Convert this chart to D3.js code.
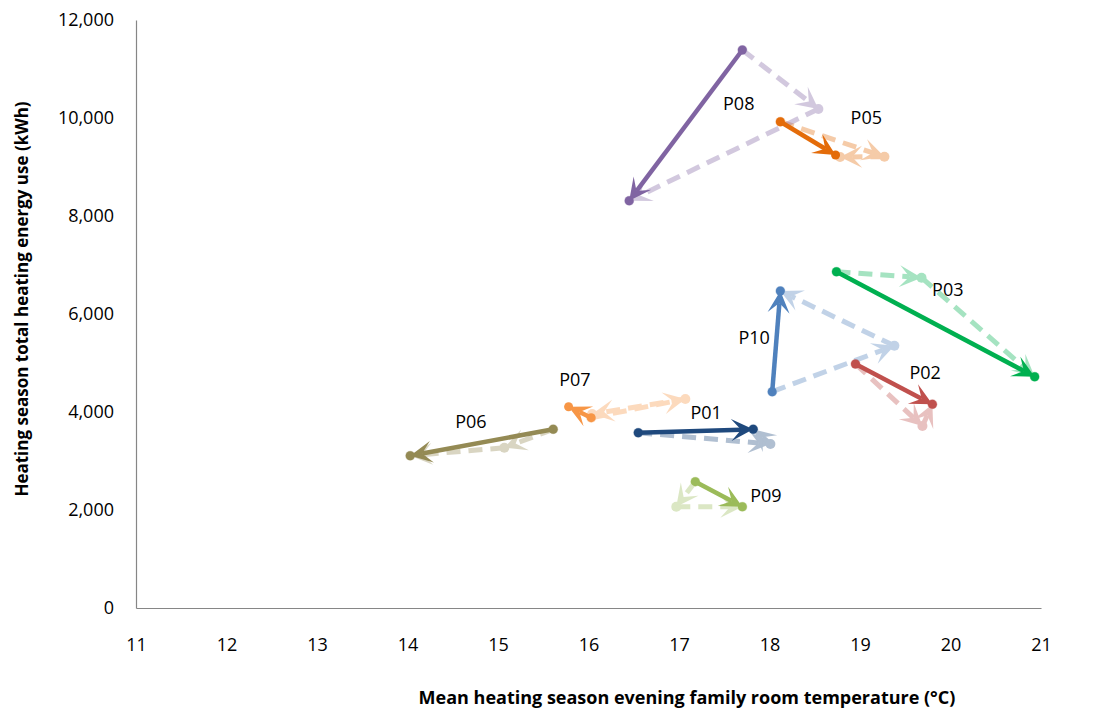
<!DOCTYPE html>
<html>
<head>
<meta charset="utf-8">
<script src="https://cdn.jsdelivr.net/npm/d3@7"></script>
<style>
  body { margin: 0; background: #fff; }
  text { font-family: "Open Sans", sans-serif; }
</style>
</head>
<body>
<svg id="chart" width="1099" height="711"></svg>
<script>
// participants and the three measured points (start, middle, end)
const participants = ["P01", "P02", "P03", "P05", "P06", "P07", "P08", "P09", "P10"];
const colours = ["#1F497D", "#C0504D", "#00B050", "#E46C0A", "#948A54", "#F79646", "#8064A2", "#9BBB59", "#4F81BD"];

const startTemp   = [16.55, 18.95, 18.74, 18.12, 15.61, 16.03, 17.70, 17.18, 18.03];
const startEnergy = [3577, 4980, 6863, 9924, 3647, 3884, 11388, 2578, 4414];
const midTemp     = [18.01, 19.69, 19.68, 19.27, 15.07, 17.07, 18.54, 16.97, 19.38];
const midEnergy   = [3347, 3714, 6741, 9210, 3271, 4265, 10184, 2067, 5353];
const endTemp     = [17.82, 19.80, 20.93, 18.73, 14.03, 15.78, 16.45, 17.70, 18.12];
const endEnergy   = [3647, 4157, 4720, 9245, 3108, 4108, 8312, 2067, 6469];
// where the dashed path finishes (same as end except P05, P07)
const dashEndTemp   = [17.82, 19.80, 20.93, 18.78, 14.03, 16.04, 16.45, 17.70, 18.12];
const dashEndEnergy = [3647, 4157, 4720, 9204, 3108, 3959, 8312, 2067, 6469];

const labelTemp   = [17.30, 19.72, 19.97, 19.07, 14.70, 15.85, 17.66, 17.96, 17.83];
const labelEnergy = [3980, 4796, 6490, 10020, 3796, 4653, 10286, 2286, 5510];

const xTicks = [11, 12, 13, 14, 15, 16, 17, 18, 19, 20, 21];
const yTicks = [0, 2000, 4000, 6000, 8000, 10000, 12000];

const svg = d3.select("#chart");
svg.append("rect").attr("width", 1099).attr("height", 711).attr("fill", "#fff");

const x = d3.scaleLinear().domain([11, 21]).range([136, 1041]);
const y = d3.scaleLinear().domain([0, 12000]).range([608, 20]);

// axes
const gx = svg.append("g")
    .attr("transform", "translate(0,608)")
    .call(d3.axisBottom(x).tickValues(xTicks).tickSize(0).tickPadding(30).tickFormat(d3.format("d")));
const gy = svg.append("g")
    .attr("transform", "translate(136,0)")
    .call(d3.axisLeft(y).tickValues(yTicks).tickSize(0).tickPadding(22).tickFormat(d3.format(",")));

[gx, gy].forEach(g => {
    g.select(".domain").attr("stroke", "#868686").attr("stroke-width", 1.2);
    g.selectAll("text").attr("font-size", 18).attr("fill", "#000")
        .attr("font-family", "'Open Sans', sans-serif");
});

svg.append("text")
    .attr("x", 687).attr("y", 704)
    .attr("text-anchor", "middle")
    .attr("font-size", 18).attr("font-weight", "bold")
    .text("Mean heating season evening family room temperature (°C)");

svg.append("text")
    .attr("transform", "translate(28,299) rotate(-90)")
    .attr("text-anchor", "middle")
    .attr("font-size", 17).attr("font-weight", "bold")
    .text("Heating season total heating energy use (kWh)");

const arrowLen = 22, arrowHalf = 11, notch = 0.55;

function arrowSegment(g, x0, y0, x1, y1, colour, width, dash) {
    const dx = x1 - x0, dy = y1 - y0;
    const d = Math.hypot(dx, dy) || 1;
    const cut = Math.min(arrowLen * notch, d);
    const ex = x1 - dx / d * cut, ey = y1 - dy / d * cut;
    const line = g.append("line")
        .attr("x1", x0).attr("y1", y0).attr("x2", ex).attr("y2", ey)
        .attr("stroke", colour).attr("stroke-width", width);
    if (dash) line.attr("stroke-dasharray", dash);
    const ang = Math.atan2(dy, dx) * 180 / Math.PI;
    g.append("path")
        .attr("d", `M0,0L${-arrowLen},${-arrowHalf}L${-arrowLen * notch},0L${-arrowLen},${arrowHalf}Z`)
        .attr("transform", `translate(${x1},${y1}) rotate(${ang})`)
        .attr("fill", colour);
}

// faint dashed paths: start -> middle -> end
participants.forEach((p, i) => {
    const g = svg.append("g").attr("opacity", 0.35);
    const pts = [
        [x(startTemp[i]), y(startEnergy[i])],
        [x(midTemp[i]), y(midEnergy[i])],
        [x(dashEndTemp[i]), y(dashEndEnergy[i])]
    ];
    arrowSegment(g, pts[0][0], pts[0][1], pts[1][0], pts[1][1], colours[i], 5, "14 8");
    arrowSegment(g, pts[1][0], pts[1][1], pts[2][0], pts[2][1], colours[i], 5, "14 8");
    g.selectAll("circle").data(pts).join("circle")
        .attr("cx", d => d[0]).attr("cy", d => d[1]).attr("r", 5)
        .attr("fill", colours[i]);
});

// solid arrows: start -> end
participants.forEach((p, i) => {
    const g = svg.append("g");
    const x0 = x(startTemp[i]), y0 = y(startEnergy[i]);
    const x1 = x(endTemp[i]), y1 = y(endEnergy[i]);
    g.selectAll("circle").data([[x0, y0], [x1, y1]]).join("circle")
        .attr("cx", d => d[0]).attr("cy", d => d[1]).attr("r", 4.5)
        .attr("fill", colours[i]);
    arrowSegment(g, x0, y0, x1, y1, colours[i], 4.5, null);
});

// labels
svg.append("g").selectAll("text")
    .data(participants)
    .join("text")
    .attr("x", (d, i) => x(labelTemp[i]))
    .attr("y", (d, i) => y(labelEnergy[i]))
    .attr("dy", "0.36em")
    .attr("text-anchor", "middle")
    .attr("font-size", 18)
    .attr("fill", "#000")
    .text(d => d);
</script>
</body>
</html>
